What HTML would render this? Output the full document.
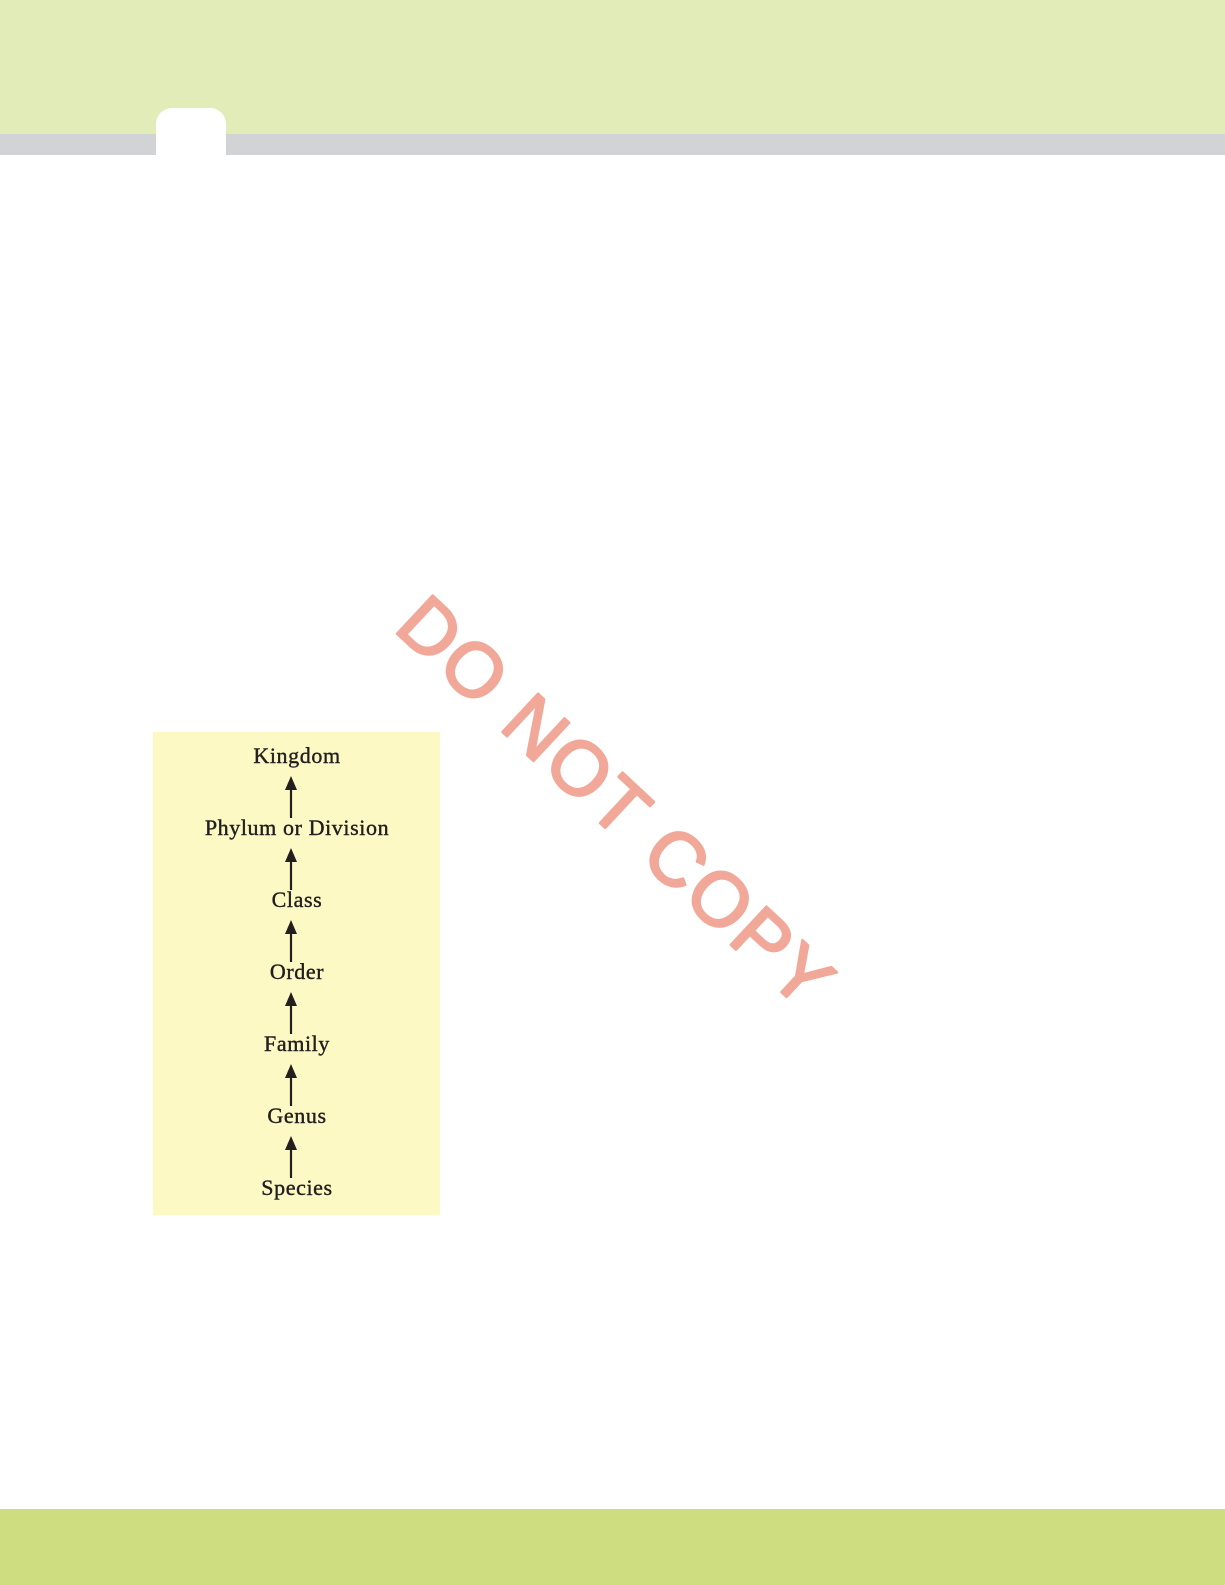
<!DOCTYPE html>
<html><head><meta charset="utf-8"><style>
html,body{margin:0;padding:0;}
body{width:1225px;height:1585px;position:relative;background:#fff;overflow:hidden;}
.top{position:absolute;left:0;top:0;width:1225px;height:134px;background:#e2ecb8;}
.gray{position:absolute;left:0;top:134px;width:1225px;height:21px;background:#d2d3d5;}
.tab{position:absolute;left:156px;top:108px;width:70px;height:50px;background:#fff;border-radius:16px 16px 0 0;}
.bot{position:absolute;left:0;top:1509px;width:1225px;height:76px;background:#cddd80;}
.box{position:absolute;left:153px;top:732px;width:287px;height:483px;background:#fdf9c4;}
</style></head><body>
<div class="top"></div><div class="gray"></div><div class="tab"></div>
<div class="bot"></div>
<div class="box"></div>
<svg width="1225" height="1585" style="position:absolute;left:0;top:0">
<g font-family="Liberation Serif, serif" font-size="22" fill="#231f20" stroke="#231f20" stroke-width="0.4" text-anchor="middle" letter-spacing="0.6">
<text x="297" y="763">Kingdom</text>
<text x="297" y="835">Phylum or Division</text>
<text x="297" y="907">Class</text>
<text x="297" y="979">Order</text>
<text x="297" y="1051">Family</text>
<text x="297" y="1123">Genus</text>
<text x="297" y="1195">Species</text>
</g>
<g stroke="#231f20" stroke-width="2.2" fill="#231f20">
<line x1="291" y1="788" x2="291" y2="818"/><polygon points="291,776 285,790 297,790" stroke="none"/>
<line x1="291" y1="860" x2="291" y2="890"/><polygon points="291,848 285,862 297,862" stroke="none"/>
<line x1="291" y1="932" x2="291" y2="962"/><polygon points="291,920 285,934 297,934" stroke="none"/>
<line x1="291" y1="1004" x2="291" y2="1034"/><polygon points="291,992 285,1006 297,1006" stroke="none"/>
<line x1="291" y1="1076" x2="291" y2="1106"/><polygon points="291,1064 285,1078 297,1078" stroke="none"/>
<line x1="291" y1="1148" x2="291" y2="1178"/><polygon points="291,1136 285,1150 297,1150" stroke="none"/>
</g>
<text x="0" y="0" transform="translate(616,803) rotate(43)" text-anchor="middle" dominant-baseline="central" font-family="Liberation Sans, sans-serif" font-size="76" letter-spacing="3" fill="#f2a898" stroke="#f2a898" stroke-width="2.5" stroke-linejoin="round">DO NOT COPY</text>
</svg>
</body></html>
